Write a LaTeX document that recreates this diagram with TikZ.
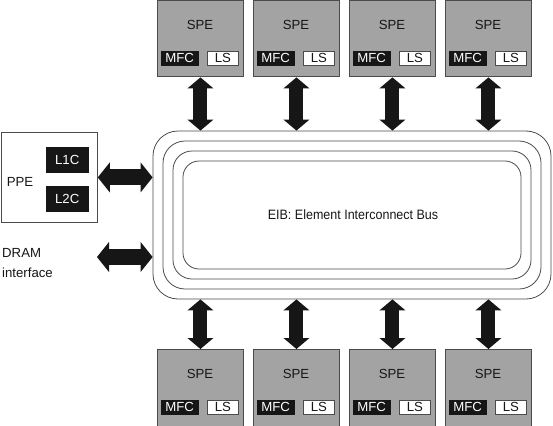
\documentclass[tikz,border=0pt]{standalone}
\usepackage{fontspec}
\setmainfont{Liberation Sans}
\newfontfamily\eibfont[FakeStretch=0.92]{Liberation Sans}
\usetikzlibrary{arrows.meta}
\definecolor{spegray}{RGB}{163,163,163}
\definecolor{edge}{RGB}{75,75,75}
\definecolor{ink}{RGB}{22,22,22}
\begin{document}
\begin{tikzpicture}[x=1pt,y=-1pt,
  font=\fontsize{13.2}{15}\selectfont,
  spebox/.style={draw=edge, fill=spegray, line width=0.9pt, minimum width=86pt,
    inner sep=0pt, anchor=north west},
  blackbox/.style={draw=ink, fill=ink, text=white, inner sep=0pt, anchor=north west,
    minimum height=14pt},
  whitebox/.style={draw=edge, fill=white, text=ink, line width=0.8pt, inner sep=0pt,
    anchor=north west, minimum height=14pt},
  ring/.style={draw=edge, line width=0.8pt, fill=none, inner sep=0pt},
  vbiarrow/.style={draw=ink, line width=14pt,
    arrows={Triangle[width=26pt,length=11pt,line width=0pt]-Triangle[width=26pt,length=11pt,line width=0pt]}},
  hbiarrow/.style={draw=ink, line width=16pt,
    arrows={Triangle[width=30pt,length=12pt,line width=0pt]-Triangle[width=30pt,length=12pt,line width=0pt]}},
  lbl/.style={text=ink, inner sep=0pt}
]
\useasboundingbox (0,0) rectangle (553,425);

% EIB rings
\node[ring, minimum width=398pt, minimum height=168pt, rounded corners=25pt] (bus) at (352,215) {};
\node[ring, minimum width=378pt, minimum height=148pt, rounded corners=22pt] (bus2) at (352,215) {};
\node[ring, minimum width=358pt, minimum height=128pt, rounded corners=19pt] (bus3) at (352,215) {};
\node[ring, minimum width=338pt, minimum height=108pt, rounded corners=16pt] (bus4) at (352,215) {};
\node[lbl, font=\eibfont\fontsize{13.6}{15}\selectfont] (eib) at (353,215) {EIB: Element Interconnect Bus};

% SPEs
\foreach \i in {1,2,3,4} {
  \pgfmathsetmacro{\xl}{157+96*(\i-1)}
  % top
  \node[spebox, minimum height=76pt] (spet\i) at (\xl,0.5) {};
  \node[lbl] (spetl\i) at (\xl+43,25) {SPE};
  \node[blackbox, minimum width=37pt] (mfct\i) at (\xl+4,51) {MFC};
  \node[whitebox, minimum width=31pt] (lst\i) at (\xl+50,51) {LS};
  \draw[vbiarrow] (spet\i.south) -- (spet\i.south |- bus.north);
  % bottom
  \node[spebox, minimum height=80pt] (speb\i) at (\xl,349) {};
  \node[lbl] (spebl\i) at (\xl+43,374) {SPE};
  \node[blackbox, minimum width=37pt] (mfcb\i) at (\xl+4,400) {MFC};
  \node[whitebox, minimum width=31pt] (lsb\i) at (\xl+50,400) {LS};
  \draw[vbiarrow] (speb\i.north) -- (speb\i.north |- bus.south);
}

% PPE
\node[draw=edge, line width=0.8pt, fill=white, minimum width=96pt, minimum height=90pt,
  inner sep=0pt, anchor=north west] (ppe) at (1,132) {};
\node[lbl] (ppel) at (20,182) {PPE};
\node[blackbox, minimum width=42pt, minimum height=25pt] (l1c) at (46,147) {L1C};
\node[blackbox, minimum width=42pt, minimum height=25pt] (l2c) at (46,186) {L2C};
\draw[hbiarrow] (ppe.east) -- (ppe.east -| bus.west);

% DRAM
\node[lbl, align=left, anchor=west, font=\fontsize{13.2}{20}\selectfont] (dramlbl) at (2,263) {DRAM\\interface};
\coordinate (dram) at (97,257);
\draw[hbiarrow] (dram) -- (dram -| bus.west);
\end{tikzpicture}
\end{document}
